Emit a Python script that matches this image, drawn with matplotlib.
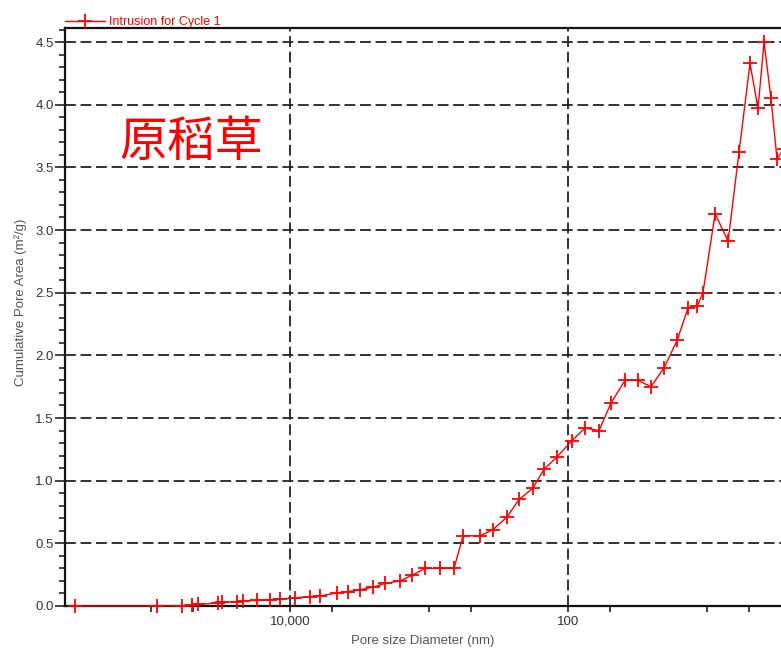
import matplotlib
matplotlib.use("Agg")
import matplotlib.pyplot as plt
from matplotlib.ticker import FixedLocator, MultipleLocator, FuncFormatter

# Pore diameter (nm) and cumulative pore area (m²/g), intrusion cycle 1
diameter_nm = [352000, 90500, 60000, 50700, 45900, 33000, 30800, 24000, 21800,
               17300, 13900, 11800, 9200, 7180, 6080, 4590, 3830, 3135, 2530,
               2073, 1617, 1325, 1069, 834, 661, 569, 430, 346, 275, 225, 179,
               149, 120, 93.6, 75.5, 59.8, 49.1, 38.9, 31.4, 25.3, 20.4, 16.4,
               13.7, 11.8, 10.7, 8.75, 7.06, 5.89, 4.91, 4.30, 3.89, 3.47,
               3.14, 2.79]
cum_area = [0.0, 0.0, 0.003, 0.006, 0.012, 0.025, 0.03, 0.035, 0.04, 0.045,
            0.05, 0.055, 0.065, 0.075, 0.08, 0.105, 0.115, 0.13, 0.15, 0.18,
            0.2, 0.245, 0.30, 0.30, 0.30, 0.56, 0.56, 0.61, 0.71, 0.85, 0.94,
            1.09, 1.19, 1.32, 1.42, 1.40, 1.62, 1.80, 1.80, 1.75, 1.90, 2.12,
            2.38, 2.39, 2.50, 3.13, 2.91, 3.62, 4.33, 3.97, 4.50, 4.05, 3.57,
            3.65]

series_label = "Intrusion for Cycle 1"
sample_name = "原稻草"
x_label = "Pore size Diameter (nm)"
y_label = "Cumulative Pore Area (m²/g)"

x_ticks = [100000, 50000, 10000, 5000, 1000, 500, 100, 50, 10, 5]
x_tick_labels = {10000: "10,000", 100: "100"}
x_grid = [10000, 100]

plt.rcParams["font.family"] = ["Liberation Sans", "DejaVu Sans"]

W, H = 781, 650
fig = plt.figure(figsize=(W / 100, H / 100), dpi=100)
ax_l, ax_r, ax_t, ax_b = 65, 795, 28, 606
ax = fig.add_axes([ax_l / W, 1 - ax_b / H, (ax_r - ax_l) / W, (ax_b - ax_t) / H])

ax.set_xscale("log")
ax.set_xlim(415600, 2.33)
ax.set_ylim(0, 4.612)

ax.plot(diameter_nm, cum_area, color="#ff0000", lw=1.0, marker="+",
        markersize=9.5, markeredgewidth=1.3, label=series_label, clip_on=False,
        zorder=5)

# dashed grid
dash = (0, (6, 2.6))
for v in [0.5, 1.0, 1.5, 2.0, 2.5, 3.0, 3.5, 4.0, 4.5]:
    ax.axhline(v, color="#222222", lw=1.3, ls=dash, zorder=1)
for d in x_grid:
    ax.axvline(d, color="#222222", lw=1.3, ls=dash, zorder=1)

ax.xaxis.set_major_locator(FixedLocator(x_ticks))
ax.xaxis.set_minor_locator(FixedLocator([]))
ax.xaxis.set_major_formatter(FuncFormatter(lambda v, p: x_tick_labels.get(int(round(v)), "")))
ax.yaxis.set_major_locator(MultipleLocator(0.5))
ax.yaxis.set_minor_locator(MultipleLocator(0.1))
ax.yaxis.set_major_formatter(FuncFormatter(lambda v, p: f"{v:.1f}"))

ax.tick_params(axis="x", which="major", direction="out", length=4, width=1.2,
               colors="#222222", labelsize=9.5, pad=3, labelcolor="#333333")
ax.tick_params(axis="y", which="major", direction="out", length=7, width=1.2,
               colors="#222222", labelsize=9.5, pad=1, labelcolor="#333333")
ax.tick_params(axis="y", which="minor", direction="out", length=4, width=1.2,
               colors="#222222")

for s in ["left", "bottom", "top"]:
    ax.spines[s].set_linewidth(1.6)
    ax.spines[s].set_color("#111111")
ax.spines["right"].set_visible(False)

fig.text(423 / W, 1 - 641 / H, x_label, ha="center", va="center",
         fontsize=9.5, color="#555555")
fig.text(21 / W, 1 - 302 / H, y_label, ha="center", va="center",
         rotation=90, fontsize=9.5, color="#555555")

fig.text(119 / W, 1 - 142 / H, sample_name, ha="left", va="center",
         fontsize=34.5, color="#ff0000",
         family=["Noto Sans CJK SC", "DejaVu Sans"], fontweight="light")

leg = ax.legend(loc="lower left", bbox_to_anchor=(-0.003, 0.995),
                frameon=False, fontsize=9, labelcolor="#ff0000",
                handlelength=3.2, handletextpad=0.3, borderaxespad=0.1,
                borderpad=0.1)

fig.savefig("out.png", dpi=100)
